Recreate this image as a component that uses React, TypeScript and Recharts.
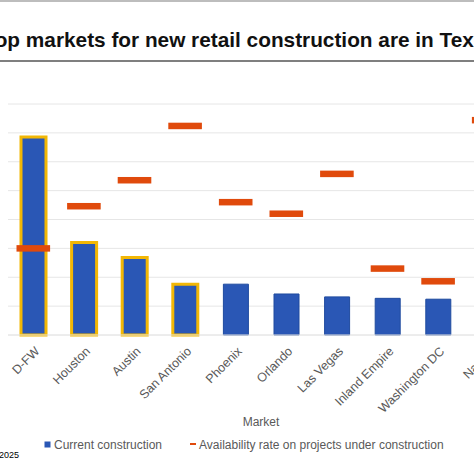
import { Bar, CartesianGrid, Cell, ComposedChart, Label, Scatter, XAxis, YAxis } from 'recharts'

const markets = [
  'D-FW',
  'Houston',
  'Austin',
  'San Antonio',
  'Phoenix',
  'Orlando',
  'Las Vegas',
  'Inland Empire',
  'Washington DC',
  'Naples',
]
// current construction, million SF
const construction = [3.43, 1.6, 1.34, 0.88, 0.88, 0.71, 0.66, 0.635, 0.62, 0.6]
// availability rate on projects under construction, %
const availability = [15, 22.3, 26.8, 36.2, 23, 21, 27.9, 11.5, 9.3, 37.2]
const texas = ['D-FW', 'Houston', 'Austin', 'San Antonio']
const leftTicks = [0, 0.5, 1, 1.5, 2, 2.5, 3, 3.5, 4]

const BLUE = '#2a57b5'
const GOLD = '#f2b705'
const ORANGE = '#e04a0c'
const FONT = '"Liberation Sans", Arial, sans-serif'

const data = markets.map((m, i) => ({
  market: m,
  construction: construction[i],
  availability: availability[i],
}))

function Dash(props: any) {
  const { cx, cy } = props
  return <rect x={cx - 16.8} y={cy - 3.25} width={33.6} height={6.5} fill={ORANGE} />
}

function Tick(props: any) {
  const { x, y, payload } = props
  const ax = x + 7
  const ay = y + 9
  return (
    <text
      x={ax}
      y={ay}
      transform={`rotate(-45, ${ax}, ${ay})`}
      textAnchor="end"
      fontSize={12.5}
      fontFamily={FONT}
      fill="#595959"
    >
      {payload.value}
    </text>
  )
}

export default function App() {
  return (
    <div
      style={{
        position: 'fixed',
        left: 0,
        top: 0,
        width: 474,
        height: 474,
        overflow: 'hidden',
        background: '#fff',
      }}
    >
      <div style={{ position: 'absolute', left: 0, top: 0 }}>
        <ComposedChart
          width={540}
          height={474}
          data={data}
          margin={{ top: 104, left: 8, right: 26, bottom: 59 }}
        >
          <CartesianGrid yAxisId="left" vertical={false} stroke="#e6e6e6" />
          <YAxis yAxisId="left" hide domain={[0, 4]} ticks={leftTicks} />
          <YAxis yAxisId="right" hide orientation="right" domain={[0, 40]} />
          <XAxis
            dataKey="market"
            height={80}
            interval={0}
            tickLine={false}
            axisLine={{ stroke: '#e6e6e6' }}
            tick={<Tick />}
          >
            <Label
              value="Market"
              position="bottom"
              offset={2}
              style={{ fontSize: 12, fontFamily: FONT, fill: '#595959' }}
            />
          </XAxis>
          <Bar yAxisId="left" dataKey="construction" barSize={25} isAnimationActive={false}>
            {data.map((d) =>
              texas.includes(d.market) ? (
                <Cell key={d.market} fill={BLUE} stroke={GOLD} strokeWidth={3} />
              ) : (
                <Cell key={d.market} fill={BLUE} stroke="#1f4a9f" strokeWidth={1} />
              ),
            )}
          </Bar>
          <Scatter
            yAxisId="right"
            dataKey="availability"
            shape={<Dash />}
            isAnimationActive={false}
          />
        </ComposedChart>
      </div>
      <svg
        width={474}
        height={474}
        style={{ position: 'absolute', left: 0, top: 0, pointerEvents: 'none' }}
      >
        <line x1={0} y1={1} x2={474} y2={1} stroke="#bdbdbd" strokeWidth={2} />
        <text x={-16.5} y={47} fontSize={20.8} fontWeight="bold" fontFamily={FONT} fill="#111">
          Top markets for new retail construction are in Texas
        </text>
        <line x1={0} y1={61} x2={474} y2={61} stroke="#555" strokeWidth={1.5} />
        <rect x={44.5} y={441.5} width={6} height={6} fill={BLUE} />
        <text x={54} y={449} fontSize={12} fontFamily={FONT} fill="#595959">
          Current construction
        </text>
        <rect x={190} y={443} width={6} height={2} fill={ORANGE} />
        <text x={199} y={449} fontSize={12} fontFamily={FONT} fill="#595959">
          Availability rate on projects under construction
        </text>
        <text x={-1} y={458} fontSize={9} fontFamily={FONT} fill="#000">
          2025
        </text>
      </svg>
    </div>
  )
}
